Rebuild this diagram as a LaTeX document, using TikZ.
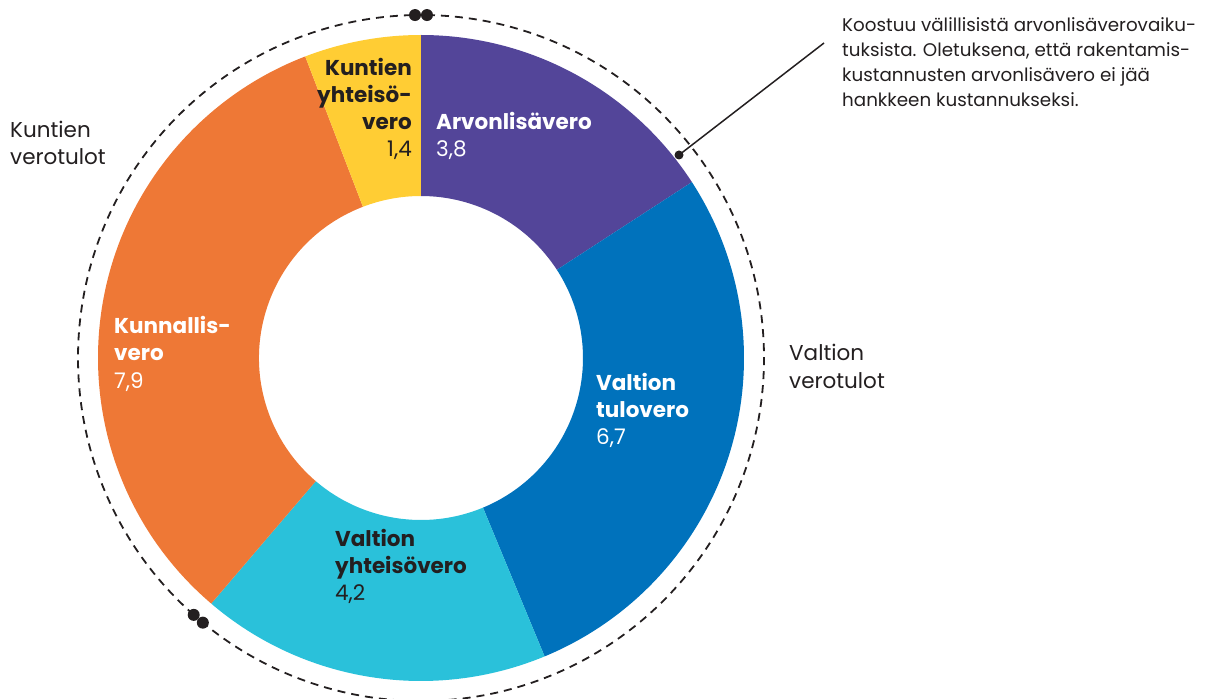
\documentclass[tikz,border=0pt]{standalone}
\usepackage{fontspec}
\setmainfont{Poppins}
\usepackage{tikz}
\usetikzlibrary{positioning}
\definecolor{alvPurple}{HTML}{534599}
\definecolor{tuloBlue}{HTML}{0072BC}
\definecolor{yhtCyan}{HTML}{2AC1DA}
\definecolor{kunOrange}{HTML}{EE7836}
\definecolor{kuyYellow}{HTML}{FFCD34}
\definecolor{inkDark}{HTML}{231F20}
\tikzstyle{lbl} = [inner sep=0pt, align=left, anchor=base west, text=inkDark, font=\fontsize{21.5}{27}\selectfont]
\tikzstyle{lblr} = [lbl, align=right, anchor=base east]
\tikzstyle{note} = [lbl, font=\fontsize{18.3}{25}\selectfont]
\tikzstyle{ring} = [draw=inkDark, line width=1.8pt, dash pattern=on 8pt off 6pt]
\tikzstyle{dot} = [circle, fill=inkDark, inner sep=0pt, minimum size=12pt]
\tikzstyle{callout} = [draw=inkDark, line width=1.5pt]

\begin{document}
\begin{tikzpicture}[x=1pt,y=1pt]
\useasboundingbox (-421,-341) rectangle (787,358);

\fill [alvPurple] (90:323pt) arc (90:33:323pt) -- (33:162pt) arc (33:90:162pt) -- cycle;
\fill [tuloBlue] (33:323pt) arc (33:-67.5:323pt) -- (-67.5:162pt) arc (-67.5:33:162pt) -- cycle;
\fill [yhtCyan] (-67.5:323pt) arc (-67.5:-130.5:323pt) -- (-130.5:162pt) arc (-130.5:-67.5:162pt) -- cycle;
\fill [kunOrange] (-130.5:323pt) arc (-130.5:-249:323pt) -- (-249:162pt) arc (-249:-130.5:162pt) -- cycle;
\fill [kuyYellow] (111:323pt) arc (111:90:323pt) -- (90:162pt) arc (90:111:162pt) -- cycle;

\draw [ring] (89:343pt) arc (89:-129.5:343pt);
\draw [ring] (-131.5:343pt) arc (-131.5:-269:343pt);
\node (topL) [dot] at (91:343pt) {};
\node (topR) [dot] at (89:343pt) {};
\node (botL) [dot] at (-131.5:343pt) {};
\node (botR) [dot] at (-129.5:343pt) {};

\node (alvLbl) [lbl, text=white] at (15,201) {\textbf{Arvonlisävero}\\3,8};
\node (kuyLbl) [lblr] at (-9,201) {\textbf{Kuntien}\\\textbf{yhteisö-}\\\textbf{vero}\\1,4};
\node (kunLbl) [lbl, text=white] at (-307,-30) {\textbf{Kunnallis-}\\\textbf{vero}\\7,9};
\node (tuloLbl) [lbl, text=white] at (175,-86) {\textbf{Valtion}\\\textbf{tulovero}\\6,7};
\node (yhtLbl) [lbl] at (-86,-242) {\textbf{Valtion}\\\textbf{yhteisövero}\\4,2};

\node (kuntGrp) [lbl] at (-411,193) {Kuntien\\verotulot};
\node (valtGrp) [lbl] at (368,-30) {Valtion\\verotulot};

\node (alvDot) [dot, minimum size=9pt] at (258,203) {};
\coordinate (noteEnd) at (403,315);
\draw [callout] (alvDot.center) -- (noteEnd);
\node (alvNote) [note] at (421,251) {Koostuu välillisistä arvonlisäverovaiku-\\tuksista. Oletuksena, että rakentamis-\\kustannusten arvonlisävero ei jää\\hankkeen kustannukseksi.};
\end{tikzpicture}
\end{document}
